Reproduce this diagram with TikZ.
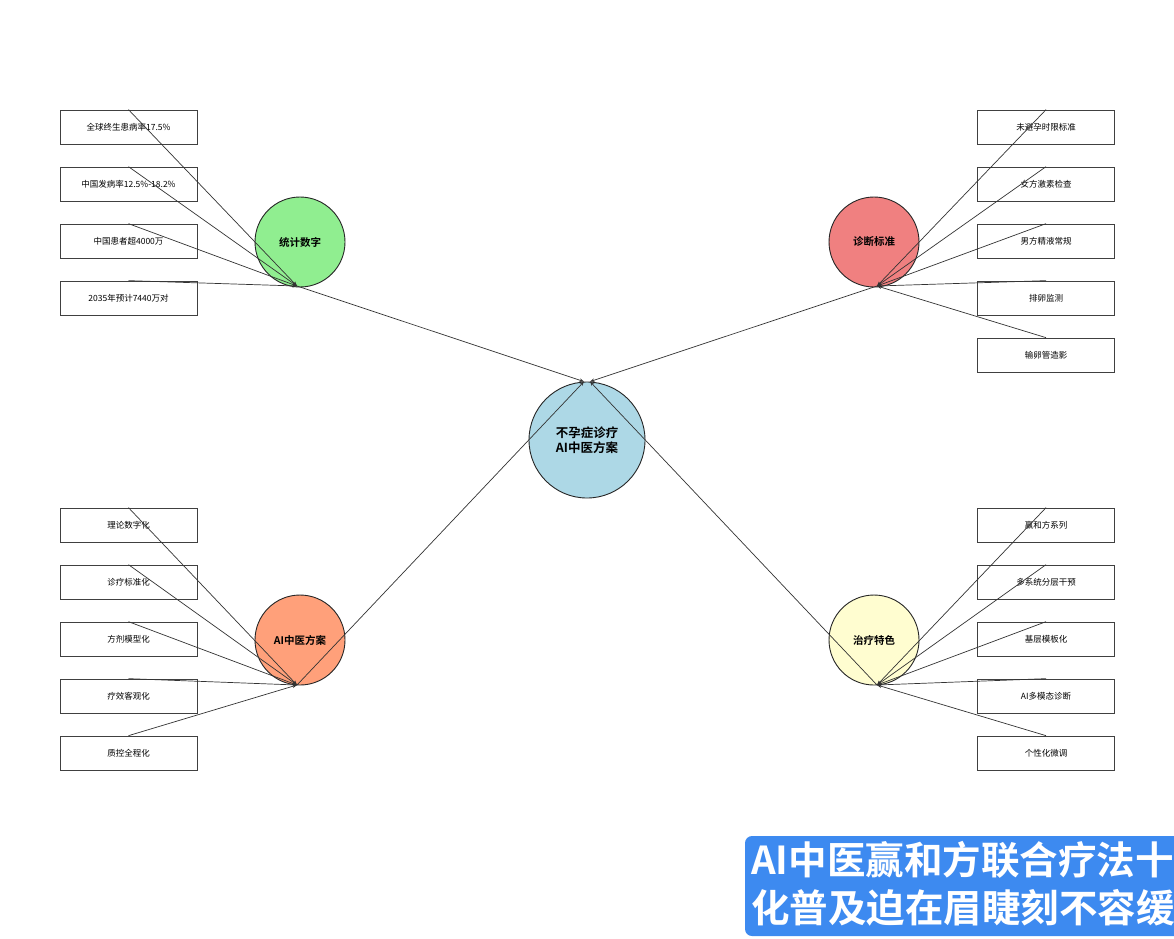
\documentclass[tikz,border=0pt]{standalone}
\usepackage{fontspec}
\setmainfont{Noto Sans CJK SC}[BoldFont={Noto Sans CJK SC Bold}]
\usetikzlibrary{arrows.meta}
\definecolor{rootblue}{HTML}{ADD8E6}
\definecolor{statgreen}{HTML}{90EE90}
\definecolor{diagred}{HTML}{F08080}
\definecolor{aiorange}{HTML}{FFA07A}
\definecolor{treatyellow}{HTML}{FFFDD0}
\definecolor{capblue}{HTML}{3D8AF0}
\tikzset{
  topic/.style = {circle, draw=black!85, line width=0.9pt, minimum size=90pt, inner sep=0pt,
                  font=\bfseries\fontsize{10.5}{12}\selectfont},
  leaf/.style  = {draw=black!75, line width=0.7pt, minimum width=137pt, minimum height=34pt,
                  inner sep=0pt, font=\fontsize{8.5}{10}\selectfont},
  link/.style  = {draw=black!80, line width=0.7pt, -{Stealth[length=4.5pt,width=3.5pt]}}
}

\begin{document}
\begin{tikzpicture}[x=1pt,y=-1pt]
\useasboundingbox (0,0) rectangle (1174,938);
\fill[white] (0,0) rectangle (1174,938);

% centre and the four topics
\node[topic, fill=rootblue, minimum size=116pt, align=center,
      font=\bfseries\fontsize{12.5}{15}\selectfont] (root) at (587,440) {不孕症诊疗\\AI中医方案};
\node[topic, fill=statgreen]   (stat)  at (300,242) {统计数字};
\node[topic, fill=diagred]     (diag)  at (874,242) {诊断标准};
\node[topic, fill=aiorange]    (ai)    at (300,640) {AI中医方案};
\node[topic, fill=treatyellow] (treat) at (874,640) {治疗特色};

\coordinate (hubS) at (297,286);
\coordinate (hubD) at (877,286);
\coordinate (hubA) at (297,685);
\coordinate (hubT) at (877,685);

% leaves
\foreach \txt [count=\i] in {全球终生患病率17.5\%, 中国发病率12.5\%-18.2\%, 中国患者超4000万, 2035年预计7440万对}
  \node[leaf] (s\i) at (128.5,{127+57*(\i-1)}) {\txt};
\foreach \txt [count=\i] in {未避孕时限标准, 女方激素检查, 男方精液常规, 排卵监测, 输卵管造影}
  \node[leaf] (d\i) at (1046,{127+57*(\i-1)}) {\txt};
\foreach \txt [count=\i] in {理论数字化, 诊疗标准化, 方剂模型化, 疗效客观化, 质控全程化}
  \node[leaf] (a\i) at (128.5,{525+57*(\i-1)}) {\txt};
\foreach \txt [count=\i] in {赢和方系列, 多系统分层干预, 基层模板化, AI多模态诊断, 个性化微调}
  \node[leaf] (t\i) at (1046,{525+57*(\i-1)}) {\txt};

% connectors
\foreach \i in {1,...,4} \draw[link] (s\i.north) -- (hubS);
\foreach \i in {1,...,5} \draw[link] (d\i.north) -- (hubD);
\foreach \i in {1,...,5} \draw[link] (a\i.north) -- (hubA);
\foreach \i in {1,...,5} \draw[link] (t\i.north) -- (hubT);
\draw[link] (hubS) -- ([xshift=-3pt]root.north);
\draw[link] (hubA) -- ([xshift=-3pt]root.north);
\draw[link] (hubD) -- ([xshift=3pt]root.north);
\draw[link] (hubT) -- ([xshift=3pt]root.north);

% subtitle banner
\fill[capblue, rounded corners=7pt] (745,836) rectangle (1200,936);
\node[anchor=west, text=white, align=left, inner sep=0pt,
      font=\bfseries\fontsize{38.5}{48}\selectfont] (caption) at (751,884) {AI中医赢和方联合疗法十\\化普及迫在眉睫刻不容缓};
\end{tikzpicture}
\end{document}
